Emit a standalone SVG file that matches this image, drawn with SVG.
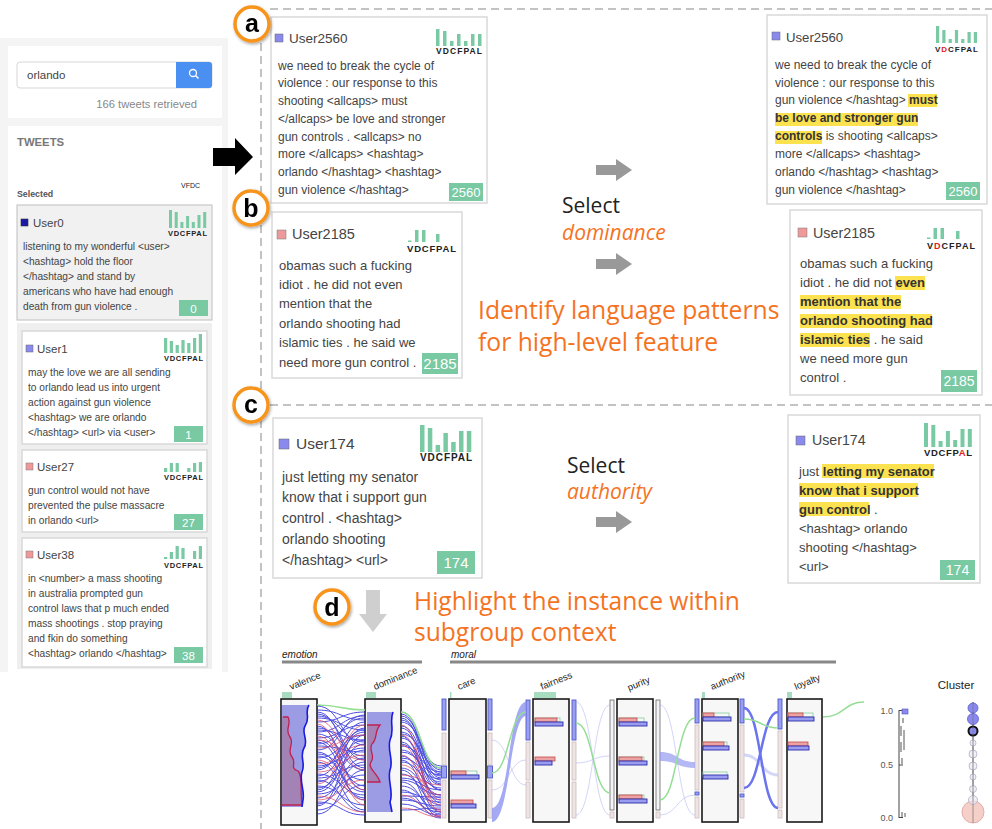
<svg xmlns="http://www.w3.org/2000/svg" width="992" height="829" viewBox="0 0 992 829">
<style>
.sf{font-family:"Liberation Sans",Arial,sans-serif}
.os{font-family:"Open Sans","Liberation Sans",sans-serif}
.card{fill:#fff;stroke:#d9d9d9;stroke-width:1.5}
.tx{font-family:"Liberation Sans",Arial,sans-serif;fill:#444}
.b{font-weight:bold;fill:#333}
.hl{fill:#fde24f}
.g{fill:#79c9a3}
.num{font-family:"Liberation Sans",Arial,sans-serif;fill:#fff;text-anchor:middle}
.lbl{font-family:"Liberation Sans",Arial,sans-serif;font-weight:bold;fill:#222}
.dash{stroke:#b0b0b0;stroke-width:1.5;stroke-dasharray:8 5;fill:none}
.ring{fill:#fff;stroke:#f7941d;stroke-width:3.5}
.letter{font-family:"Liberation Sans",Arial,sans-serif;font-weight:bold;font-size:25px;text-anchor:middle;fill:#000}
.org{fill:#f5731f}
.ax{fill:#f7f7f7;stroke:#1a1a1a;stroke-width:1.6}
.sb{fill:#efe4e4;stroke:#cdbcbc;stroke-width:.8}
.sbb{fill:#9aa0f0;stroke:#5058c8;stroke-width:.9}
.vb{fill:none;stroke:#2424d8;stroke-width:1;opacity:.8}
.vr{fill:none;stroke:#d8405a;stroke-width:1;opacity:.7}
.gr{fill:none;stroke:#94de94;stroke-width:1.5}
.fb{fill:none;stroke:#a8acf0;stroke-width:1;opacity:.5}
.rb{fill:#eba3a3;stroke:#c84848;stroke-width:.8}
.bb{fill:#9a9cf0;stroke:#2a2aa8;stroke-width:.9}
.go{fill:none;stroke:#8fd0a8;stroke-width:.9}
.tab{fill:#a8dcc0}
.ang{font-family:"Liberation Sans",Arial,sans-serif;font-size:9.5px;fill:#222}
</style>
<defs>
<filter id="sh" x="-50%" y="-50%" width="200%" height="200%"><feDropShadow dx="1" dy="1.5" stdDeviation="1.5" flood-opacity=".35"/></filter>
</defs>
<rect width="992" height="829" fill="#fff"/>

<!-- Left panel -->
<g id="left-panel">
<rect x="0" y="38" width="228" height="634" fill="#f4f4f4"/>
<g id="search">
<rect x="8" y="46" width="214" height="72" fill="#fff"/>
<rect x="17" y="62" width="195" height="26" rx="3" fill="#fff" stroke="#d6d6d6"/>
<path d="M176,62 H209 A3,3 0 0 1 212,65 V85 A3,3 0 0 1 209,88 H176 Z" fill="#4a8ff2"/>
<circle cx="193" cy="73" r="3.5" fill="none" stroke="#fff" stroke-width="1.3"/>
<line x1="195.5" y1="75.5" x2="198.5" y2="78.5" stroke="#fff" stroke-width="1.5"/>
<text class="tx" x="27" y="79" font-size="11.5">orlando</text>
<text class="sf" x="197" y="108" font-size="11.2" fill="#888" text-anchor="end">166 tweets retrieved</text>
</g>
<g id="tweets-panel">
<rect x="8" y="126" width="214" height="546" fill="#fff"/>
<text class="sf" x="17" y="146" font-size="11.3" font-weight="bold" fill="#777">TWEETS</text>
<text class="sf" x="181" y="188" font-size="7" fill="#222">VFDC</text>
<text class="sf" x="17" y="197" font-size="8.8" font-weight="bold" fill="#555">Selected</text>
</g>
<g id="card-user0">
<rect x="17" y="205" width="195" height="115" fill="#f1f1f1" stroke="#c9c9c9" stroke-width="1.2"/>
<rect x="21" y="219" width="7" height="7" fill="#1a1aa8" stroke="#333" stroke-width=".6"/>
<text class="tx" x="33" y="226.5" font-size="11.5">User0</text>
<g class="g"><rect x="169" y="210" width="3" height="18"/><rect x="174.7" y="212" width="3" height="16"/><rect x="180.4" y="222" width="3" height="6"/><rect x="186.1" y="216" width="3" height="12"/><rect x="191.8" y="222" width="3" height="6"/><rect x="197.5" y="215" width="3" height="13"/><rect x="203.2" y="212" width="3" height="16"/></g>
<text class="lbl" x="168" y="236" font-size="7.5" textLength="39">VDCFPAL</text>
<g class="tx" font-size="10.2"><text x="23" y="250">listening to my wonderful &lt;user&gt;</text><text x="23" y="265">&lt;hashtag&gt; hold the floor</text><text x="23" y="280">&lt;/hashtag&gt; and stand by</text><text x="23" y="295">americans who have had enough</text><text x="23" y="310">death from gun violence .</text></g>
<rect class="g" x="179" y="300" width="29" height="16"/>
<text class="num" x="193.5" y="312.5" font-size="11.5">0</text>
</g>
<rect x="17" y="323" width="195" height="346" fill="#efefef"/>
<g id="card-user1">
<rect class="card" x="22" y="331" width="185" height="113" stroke-width="1"/>
<rect x="26" y="345" width="7" height="7" fill="#8a8aee" stroke="#666" stroke-width=".5"/>
<text class="tx" x="37" y="353" font-size="11.5">User1</text>
<g class="g"><rect x="164" y="338" width="3.2" height="15"/><rect x="169.8" y="341" width="3.2" height="12"/><rect x="175.6" y="345" width="3.2" height="8"/><rect x="181.4" y="340" width="3.2" height="13"/><rect x="187.2" y="343" width="3.2" height="10"/><rect x="193" y="338" width="3.2" height="15"/><rect x="198.8" y="334" width="3.2" height="19"/></g>
<text class="lbl" x="164" y="361" font-size="7.5" textLength="39">VDCFPAL</text>
<g class="tx" font-size="10.2"><text x="28" y="376">may the love we are all sending</text><text x="28" y="391">to orlando lead us into urgent</text><text x="28" y="406">action against gun violence</text><text x="28" y="421">&lt;hashtag&gt; we are orlando</text><text x="28" y="436">&lt;/hashtag&gt; &lt;url&gt; via &lt;user&gt;</text></g>
<rect class="g" x="174" y="426" width="29" height="16"/>
<text class="num" x="188.5" y="438.5" font-size="11.5">1</text>
</g>
<g id="card-user27">
<rect class="card" x="22" y="450" width="185" height="82" stroke-width="1"/>
<rect x="26" y="463" width="7" height="7" fill="#ee9a9a" stroke="#777" stroke-width=".5"/>
<text class="tx" x="37" y="471" font-size="11.5">User27</text>
<g class="g"><rect x="164" y="468" width="3.2" height="4"/><rect x="169.8" y="463" width="3.2" height="9"/><rect x="175.6" y="463" width="3.2" height="9"/><rect x="187.2" y="468" width="3.2" height="4"/><rect x="193" y="463" width="3.2" height="9"/><rect x="198.8" y="462" width="3.2" height="10"/></g>
<text class="lbl" x="164" y="480" font-size="7.5" textLength="39">VDCFPAL</text>
<g class="tx" font-size="10.2"><text x="28" y="494">gun control would not have</text><text x="28" y="509">prevented the pulse massacre</text><text x="28" y="524">in orlando &lt;url&gt;</text></g>
<rect class="g" x="174" y="514" width="29" height="16"/>
<text class="num" x="188.5" y="526.5" font-size="11.5">27</text>
</g>
<g id="card-user38">
<rect class="card" x="22" y="538" width="185" height="129" stroke-width="1"/>
<rect x="26" y="551" width="7" height="7" fill="#ee9a9a" stroke="#777" stroke-width=".5"/>
<text class="tx" x="37" y="559" font-size="11.5">User38</text>
<g class="g"><rect x="164" y="557" width="3.2" height="2"/><rect x="169.8" y="552" width="3.2" height="7"/><rect x="175.6" y="546" width="3.2" height="13"/><rect x="181.4" y="548" width="3.2" height="11"/><rect x="193" y="551" width="3.2" height="8"/><rect x="198.8" y="546" width="3.2" height="13"/></g>
<text class="lbl" x="164" y="568" font-size="7.5" textLength="39">VDCFPAL</text>
<g class="tx" font-size="10.2"><text x="28" y="582">in &lt;number&gt; a mass shooting</text><text x="28" y="597">in australia prompted gun</text><text x="28" y="612">control laws that p much ended</text><text x="28" y="627">mass shootings . stop praying</text><text x="28" y="642">and fkin do something</text><text x="28" y="657">&lt;hashtag&gt; orlando &lt;/hashtag&gt;</text></g>
<rect class="g" x="174" y="647" width="29" height="16"/>
<text class="num" x="188.5" y="659.5" font-size="11.5">38</text>
</g>
</g>

<!-- dashed separators -->
<g id="separators">
<line class="dash" x1="270" y1="9" x2="992" y2="9"/>
<line class="dash" x1="270" y1="405" x2="992" y2="405"/>
<line class="dash" x1="261" y1="43" x2="261" y2="829"/>
</g>

<!-- Card a left -->
<g id="card-a-left">
<rect class="card" x="271" y="17" width="216" height="186"/>
<rect x="275" y="34" width="8" height="8" fill="#8a8aee" stroke="#666" stroke-width=".5"/>
<text class="tx" x="289" y="42.5" font-size="13.5">User2560</text>
<g class="g"><rect x="436" y="29" width="3.5" height="17"/><rect x="443" y="31" width="3.5" height="15"/><rect x="450" y="41" width="3.5" height="5"/><rect x="457" y="34" width="3.5" height="12"/><rect x="464" y="41" width="3.5" height="5"/><rect x="471" y="34" width="3.5" height="12"/><rect x="478" y="34" width="3.5" height="12"/></g>
<text class="lbl" x="436" y="54" font-size="8.5" textLength="46">VDCFPAL</text>
<g class="tx" font-size="12"><text x="278" y="70">we need to break the cycle of</text><text x="278" y="87">violence : our response to this</text><text x="278" y="105">shooting &lt;allcaps&gt; must</text><text x="278" y="123">&lt;/allcaps&gt; be love and stronger</text><text x="278" y="141">gun controls . &lt;allcaps&gt; no</text><text x="278" y="158">more &lt;/allcaps&gt; &lt;hashtag&gt;</text><text x="278" y="176">orlando &lt;/hashtag&gt; &lt;hashtag&gt;</text><text x="278" y="194">gun violence &lt;/hashtag&gt;</text></g>
<rect class="g" x="449" y="183" width="34" height="18"/>
<text class="num" x="466" y="197" font-size="13">2560</text>
</g>

<!-- Card a right -->
<g id="card-a-right">
<rect class="card" x="767" y="15" width="220" height="189"/>
<rect x="772" y="32" width="8" height="8" fill="#8a8aee" stroke="#666" stroke-width=".5"/>
<text class="tx" x="786" y="42" font-size="13.2">User2560</text>
<g class="g"><rect x="936" y="26" width="3.2" height="17"/><rect x="942.3" y="30" width="3.2" height="13"/><rect x="948.6" y="39" width="3.2" height="4"/><rect x="954.9" y="30" width="3.2" height="13"/><rect x="961.2" y="39" width="3.2" height="4"/><rect x="967.5" y="32" width="3.2" height="11"/><rect x="973.8" y="32" width="3.2" height="11"/></g>
<text class="lbl" x="935" y="52" font-size="8" textLength="43">V<tspan fill="#e0201a">D</tspan>CFPAL</text>
<rect class="hl" x="908" y="94" width="29" height="13"/>
<rect class="hl" x="775" y="113" width="143" height="13"/>
<rect class="hl" x="775" y="131" width="47" height="13"/>
<g class="tx" font-size="12"><text x="775" y="69">we need to break the cycle of</text><text x="775" y="87">violence : our response to this</text><text x="775" y="104">gun violence &lt;/hashtag&gt; <tspan class="b">must</tspan></text><text x="775" y="122" class="b">be love and stronger gun</text><text x="775" y="140"><tspan class="b">controls</tspan> is shooting &lt;allcaps&gt;</text><text x="775" y="158">more &lt;/allcaps&gt; &lt;hashtag&gt;</text><text x="775" y="176">orlando &lt;/hashtag&gt; &lt;hashtag&gt;</text><text x="775" y="194">gun violence &lt;/hashtag&gt;</text></g>
<rect class="g" x="946" y="182" width="34" height="18"/>
<text class="num" x="963" y="196" font-size="13">2560</text>
</g>

<!-- Card b left -->
<g id="card-b-left">
<rect class="card" x="272" y="212" width="190" height="166"/>
<rect x="277" y="230" width="9" height="9" fill="#ee9a9a" stroke="#777" stroke-width=".5"/>
<text class="tx" x="292" y="239" font-size="14.5">User2185</text>
<g class="g"><rect x="408" y="240.5" width="3.5" height="1.5"/><rect x="415" y="230" width="3.5" height="12"/><rect x="422" y="230" width="3.5" height="12"/><rect x="436" y="234" width="3.5" height="8"/></g>
<text class="lbl" x="407" y="252" font-size="9.5" textLength="49">VDCFPAL</text>
<g class="tx" font-size="13"><text x="279" y="270">obamas such a fucking</text><text x="279" y="289">idiot . he did not even</text><text x="279" y="308">mention that the</text><text x="279" y="328">orlando shooting had</text><text x="279" y="347">islamic ties . he said we</text><text x="279" y="367">need more gun control .</text></g>
<rect class="g" x="422" y="353" width="36" height="21"/>
<text class="num" x="440" y="369" font-size="15">2185</text>
</g>

<!-- Card b right -->
<g id="card-b-right">
<rect class="card" x="790" y="210" width="192" height="185"/>
<rect x="798" y="228" width="9" height="9" fill="#ee9a9a" stroke="#777" stroke-width=".5"/>
<text class="tx" x="813" y="238" font-size="14.3">User2185</text>
<g class="g"><rect x="927" y="237.5" width="3.5" height="1.5"/><rect x="933.5" y="228" width="3.5" height="11"/><rect x="940.5" y="228" width="3.5" height="11"/><rect x="956" y="231" width="3.5" height="8"/></g>
<text class="lbl" x="927" y="249" font-size="9" textLength="48">V<tspan fill="#e0201a">D</tspan>CFPAL</text>
<rect class="hl" x="895" y="276" width="30" height="14"/>
<rect class="hl" x="800" y="295" width="101" height="14"/>
<rect class="hl" x="800" y="314" width="132" height="14"/>
<rect class="hl" x="800" y="333" width="70" height="14"/>
<g class="tx" font-size="13"><text x="800" y="268">obamas such a fucking</text><text x="800" y="287">idiot . he did not <tspan class="b">even</tspan></text><text x="800" y="306" class="b">mention that the</text><text x="800" y="325" class="b">orlando shooting had</text><text x="800" y="344"><tspan class="b">islamic ties</tspan> . he said</text><text x="800" y="363">we need more gun</text><text x="800" y="382">control .</text></g>
<rect class="g" x="941" y="370" width="36" height="22"/>
<text class="num" x="959" y="386" font-size="14">2185</text>
</g>

<!-- Card c left -->
<g id="card-c-left">
<rect class="card" x="273" y="418" width="209" height="160"/>
<rect x="279" y="439" width="10" height="10" fill="#8a8aee" stroke="#666" stroke-width=".5"/>
<text class="tx" x="296" y="448.5" font-size="15.5">User174</text>
<g class="g"><rect x="420" y="425" width="4.5" height="27"/><rect x="427.8" y="428" width="4.5" height="24"/><rect x="435.6" y="445" width="4.5" height="7"/><rect x="443.4" y="433" width="4.5" height="19"/><rect x="451.2" y="442" width="4.5" height="10"/><rect x="459" y="431" width="4.5" height="21"/><rect x="466.8" y="431" width="4.5" height="21"/></g>
<text class="lbl" x="420" y="461" font-size="10" textLength="52">VDCFPAL</text>
<g class="tx" font-size="14"><text x="282" y="482">just letting my senator</text><text x="282" y="502">know that i support gun</text><text x="282" y="523">control . &lt;hashtag&gt;</text><text x="282" y="544">orlando shooting</text><text x="282" y="565">&lt;/hashtag&gt; &lt;url&gt;</text></g>
<rect class="g" x="437" y="551" width="38" height="23"/>
<text class="num" x="456" y="568" font-size="15">174</text>
</g>

<!-- Card c right -->
<g id="card-c-right">
<rect class="card" x="788" y="415" width="192" height="168"/>
<rect x="796" y="436" width="9" height="9" fill="#8a8aee" stroke="#666" stroke-width=".5"/>
<text class="tx" x="812" y="445" font-size="14.2">User174</text>
<g class="g"><rect x="924" y="423" width="4" height="24"/><rect x="931.3" y="425" width="4" height="22"/><rect x="938.6" y="441" width="4" height="6"/><rect x="945.9" y="431" width="4" height="16"/><rect x="953.2" y="440" width="4" height="7"/><rect x="960.5" y="429" width="4" height="18"/><rect x="967.8" y="429" width="4" height="18"/></g>
<text class="lbl" x="924" y="456" font-size="9.5" textLength="48">VDCFP<tspan fill="#e0201a">A</tspan>L</text>
<rect class="hl" x="822" y="464" width="112" height="14"/>
<rect class="hl" x="799" y="483" width="119" height="14"/>
<rect class="hl" x="799" y="502" width="70" height="14"/>
<g class="tx" font-size="13"><text x="799" y="476">just <tspan class="b">letting my senator</tspan></text><text x="799" y="495" class="b">know that i support</text><text x="799" y="514"><tspan class="b">gun control</tspan> .</text><text x="799" y="533">&lt;hashtag&gt; orlando</text><text x="799" y="552">shooting &lt;/hashtag&gt;</text><text x="799" y="571">&lt;url&gt;</text></g>
<rect class="g" x="940" y="560" width="35" height="20"/>
<text class="num" x="957.5" y="575" font-size="14">174</text>
</g>

<!-- Connectors / arrows -->
<g id="connectors">
<path d="M213,148 L235,148 L235,138 L253,157 L235,175 L235,166 L213,166 Z" fill="#000"/>
<path d="M596,165 L616,165 L616,159 L632,170 L616,181 L616,175 L596,175 Z" fill="#999"/>
<path d="M596,259 L616,259 L616,253 L632,264 L616,275 L616,269 L596,269 Z" fill="#999"/>
<path d="M596,517 L616,517 L616,511 L632,522 L616,533 L616,527 L596,527 Z" fill="#999"/>
<path d="M366,590 L380,590 L380,614 L387,614 L373,632 L359,614 L366,614 Z" fill="#cfcfcf"/>
</g>

<!-- Annotation texts -->
<g id="annotations">
<text class="os" x="562" y="213" font-size="21" fill="#222">Select</text>
<text class="os org" x="562" y="240" font-size="21" font-style="italic">dominance</text>
<text class="os org" x="478" y="319" font-size="24.7">Identify language patterns</text>
<text class="os org" x="478" y="351" font-size="24.7">for high-level feature</text>
<text class="os" x="567" y="473" font-size="21" fill="#222">Select</text>
<text class="os org" x="567" y="499" font-size="21" font-style="italic">authority</text>
<text class="os org" x="414" y="610" font-size="24.6">Highlight the instance within</text>
<text class="os org" x="414" y="641" font-size="24.6">subgroup context</text>
</g>

<!-- Circle labels -->
<g id="label-a" filter="url(#sh)"><circle class="ring" cx="252" cy="24" r="17"/><text class="letter" x="252" y="32">a</text></g>
<g id="label-b" filter="url(#sh)"><circle class="ring" cx="251" cy="208" r="17"/><text class="letter" x="251" y="217">b</text></g>
<g id="label-c" filter="url(#sh)"><circle class="ring" cx="251" cy="405" r="17"/><text class="letter" x="251" y="413">c</text></g>
<g id="label-d" filter="url(#sh)"><circle class="ring" cx="332" cy="607" r="17"/><text class="letter" x="332" y="616">d</text></g>

<!-- Bottom chart -->
<g id="chart">
<text class="sf" x="282" y="658" font-size="10" font-style="italic" fill="#222">emotion</text>
<rect x="282" y="660.5" width="140" height="3" fill="#888"/>
<text class="sf" x="451" y="658" font-size="10" font-style="italic" fill="#222">moral</text>
<rect x="450" y="660.5" width="386" height="3" fill="#888"/>

<text class="ang" transform="translate(291,690) rotate(-22)">valence</text>
<text class="ang" transform="translate(375,690) rotate(-22)">dominance</text>
<text class="ang" transform="translate(459,690) rotate(-22)">care</text>
<text class="ang" transform="translate(542,690) rotate(-22)">fairness</text>
<text class="ang" transform="translate(629,691) rotate(-22)">purity</text>
<text class="ang" transform="translate(712,690) rotate(-22)">authority</text>
<text class="ang" transform="translate(796,690) rotate(-22)">loyalty</text>

<rect class="tab" x="282" y="692" width="10" height="6"/>
<rect class="tab" x="366" y="692" width="10" height="6"/>
<rect class="tab" x="450" y="692" width="1.5" height="6"/>
<rect class="tab" x="534" y="692" width="22" height="6"/>
<rect class="tab" x="702" y="692" width="3" height="6"/>
<rect class="tab" x="787" y="692" width="5" height="6"/>

<!-- valence -->
<g id="axis-valence">
<rect class="ax" x="281" y="699" width="36" height="126"/>
<path d="M282,705 L309,705 C304,712 311,718 305,726 C301,733 309,740 304,748 C299,756 306,763 302,772 C299,781 305,790 303,800 L302,807 L282,807 Z" fill="#9c9ce4"/>
<path d="M282,717 L288,717 C292,724 284,730 290,737 C295,744 286,750 292,757 C297,763 289,768 298,771 C303,775 300,790 302,805 L282,805 Z" fill="#a382b6"/>
<path d="M283,717 L288,717 C292,724 284,730 290,737 C295,744 286,750 292,757 C297,763 289,768 298,771 C303,775 300,790 302,805 L282,805" fill="none" stroke="#c02050" stroke-width="1.3"/>
<path d="M309,705 C304,712 311,718 305,726 C301,733 309,740 304,748 C299,756 306,763 302,772 C299,781 305,790 303,800 L302,807" fill="none" stroke="#1a1ae0" stroke-width="1.6"/>
</g>
<!-- dominance -->
<g id="axis-dominance">
<rect class="ax" x="365" y="699" width="36" height="123"/>
<path d="M367,712 L393,712 C389,722 395,730 390,740 C387,750 394,760 390,770 C387,780 394,792 390,802 L392,812 L367,812 Z" fill="#9c9ce4"/>
<path d="M367,725 L380,725 C374,732 378,738 372,744 C368,750 376,756 371,762 C367,768 378,774 380,782 L367,782 Z" fill="#a382b6"/>
<path d="M367,725 L380,725 C374,732 378,738 372,744 C368,750 376,756 371,762 C367,768 378,774 380,782 L367,782" fill="none" stroke="#c02050" stroke-width="1.3"/>
<path d="M393,712 C389,722 395,730 390,740 C387,750 394,760 390,770 C387,780 394,792 390,802 L392,812" fill="none" stroke="#1a1ae0" stroke-width="1.6"/>
</g>

<!-- valence -> dominance lines -->
<g id="links-vd">
<path class="gr" d="M317,705C341,705 341,710 365,710"/>
<g class="vb">
<path d="M317,706C341,706 341,745 365,745"/><path d="M317,710C341,710 341,720 365,720"/><path d="M317,714C341,714 341,760 365,760"/><path d="M317,718C341,718 341,730 365,730"/><path d="M317,722C341,722 341,712 365,712"/><path d="M317,726C341,726 341,790 365,790"/><path d="M317,730C341,730 341,740 365,740"/><path d="M317,734C341,734 341,770 365,770"/><path d="M317,738C341,738 341,725 365,725"/><path d="M317,742C341,742 341,800 365,800"/><path d="M317,746C341,746 341,752 365,752"/><path d="M317,750C341,750 341,715 365,715"/><path d="M317,754C341,754 341,780 365,780"/><path d="M317,758C341,758 341,735 365,735"/><path d="M317,762C341,762 341,810 365,810"/><path d="M317,766C341,766 341,748 365,748"/><path d="M317,770C341,770 341,722 365,722"/><path d="M317,774C341,774 341,795 365,795"/><path d="M317,778C341,778 341,765 365,765"/><path d="M317,782C341,782 341,740 365,740"/><path d="M317,786C341,786 341,805 365,805"/><path d="M317,790C341,790 341,728 365,728"/><path d="M317,794C341,794 341,775 365,775"/><path d="M317,798C341,798 341,758 365,758"/><path d="M317,802C341,802 341,815 365,815"/><path d="M317,806C341,806 341,735 365,735"/><path d="M317,810C341,810 341,785 365,785"/><path d="M317,814C341,814 341,770 365,770"/><path d="M317,716C341,716 341,742 365,742"/><path d="M317,728C341,728 341,756 365,756"/><path d="M317,744C341,744 341,718 365,718"/><path d="M317,756C341,756 341,792 365,792"/><path d="M317,768C341,768 341,730 365,730"/><path d="M317,780C341,780 341,812 365,812"/><path d="M317,792C341,792 341,744 365,744"/><path d="M317,804C341,804 341,762 365,762"/><path d="M317,740C341,740 341,786 365,786"/><path d="M317,712C341,712 341,768 365,768"/><path d="M317,732C341,732 341,716 365,716"/><path d="M317,752C341,752 341,798 365,798"/><path d="M317,776C341,776 341,732 365,732"/><path d="M317,788C341,788 341,750 365,750"/>
</g>
<g class="vr">
<path d="M317,720C341,720 341,770 365,770"/><path d="M317,736C341,736 341,790 365,790"/><path d="M317,748C341,748 341,735 365,735"/><path d="M317,760C341,760 341,800 365,800"/><path d="M317,772C341,772 341,755 365,755"/><path d="M317,784C341,784 341,725 365,725"/><path d="M317,796C341,796 341,812 365,812"/><path d="M317,740C341,740 341,760 365,760"/><path d="M317,764C341,764 341,745 365,745"/><path d="M317,800C341,800 341,780 365,780"/><path d="M317,724C341,724 341,805 365,805"/>
</g>
</g>

<!-- dominance -> care lines -->
<g id="links-dc">
<g class="vb">
<path d="M401,712C421,712 421,770 441,770"/><path d="M401,716C421,716 421,774 441,774"/><path d="M401,720C421,720 421,772 441,772"/><path d="M401,726C421,726 421,780 441,780"/><path d="M401,732C421,732 421,776 441,776"/><path d="M401,738C421,738 421,785 441,785"/><path d="M401,744C421,744 421,790 441,790"/><path d="M401,750C421,750 421,782 441,782"/><path d="M401,756C421,756 421,795 441,795"/><path d="M401,762C421,762 421,788 441,788"/><path d="M401,768C421,768 421,800 441,800"/><path d="M401,774C421,774 421,805 441,805"/><path d="M401,780C421,780 421,795 441,795"/><path d="M401,786C421,786 421,810 441,810"/><path d="M401,792C421,792 421,802 441,802"/><path d="M401,798C421,798 421,812 441,812"/><path d="M401,804C421,804 421,815 441,815"/><path d="M401,810C421,810 421,808 441,808"/><path d="M401,714C421,714 421,778 441,778"/><path d="M401,728C421,728 421,790 441,790"/><path d="M401,734C421,734 421,768 441,768"/><path d="M401,742C421,742 421,798 441,798"/><path d="M401,752C421,752 421,775 441,775"/><path d="M401,760C421,760 421,812 441,812"/><path d="M401,770C421,770 421,817 441,817"/><path d="M401,778C421,778 421,790 441,790"/><path d="M401,790C421,790 421,818 441,818"/><path d="M401,800C421,800 421,806 441,806"/><path d="M401,722C421,722 421,766 441,766"/><path d="M401,746C421,746 421,772 441,772"/><path d="M401,718C421,718 421,784 441,784"/><path d="M401,736C421,736 421,803 441,803"/><path d="M401,758C421,758 421,779 441,779"/><path d="M401,782C421,782 421,814 441,814"/><path d="M401,796C421,796 421,797 441,797"/>
</g>
<g class="vr">
<path d="M401,735C421,735 421,800 441,800"/><path d="M401,755C421,755 421,810 441,810"/><path d="M401,775C421,775 421,785 441,785"/><path d="M401,795C421,795 421,816 441,816"/><path d="M401,745C421,745 421,805 441,805"/><path d="M401,765C421,765 421,795 441,795"/><path d="M401,808C421,808 421,817 441,817"/><path d="M401,725C421,725 421,812 441,812"/>
</g>
<path class="gr" d="M401,712C421,712 421,768 441,768"/>
</g>

<!-- moral axes side bars -->
<g id="sidebars">
<rect class="sbb" x="442" y="699" width="4" height="31"/><rect class="sb" x="442" y="733" width="4" height="32"/><rect class="sbb" x="441.5" y="766" width="5" height="12" stroke="#222"/><rect class="sb" x="442" y="780" width="4" height="38"/>
<rect class="sbb" x="488" y="699" width="4" height="31"/><rect class="sb" x="488" y="733" width="4" height="32"/><rect class="sbb" x="487.5" y="766" width="5" height="12" stroke="#222"/><rect class="sb" x="488" y="780" width="4" height="38"/>
<rect class="sbb" x="526" y="700" width="4" height="40"/><rect class="sb" x="526" y="742" width="4" height="38"/><rect class="sb" x="526" y="782" width="4" height="36"/>
<rect class="sbb" x="572" y="700" width="4" height="40"/><rect class="sb" x="572" y="742" width="4" height="38"/><rect class="sb" x="572" y="782" width="4" height="36"/>
<rect x="610" y="700" width="4" height="110" fill="#f4f4f8" stroke="#666" stroke-width=".8"/><rect class="sb" x="610" y="812" width="4" height="6"/>
<rect x="656" y="700" width="4" height="110" fill="#f4f4f8" stroke="#666" stroke-width=".8"/><rect class="sb" x="656" y="812" width="4" height="6"/>
<rect class="sbb" x="695" y="699" width="4" height="24"/><rect class="sb" x="695" y="725" width="4" height="65"/><rect class="sbb" x="695" y="792" width="4" height="3"/><rect class="sb" x="695" y="797" width="4" height="21"/>
<rect class="sbb" x="740" y="699" width="4" height="24"/><rect class="sb" x="740" y="725" width="4" height="67"/><rect class="sbb" x="740" y="794" width="4" height="3"/><rect class="sb" x="740" y="799" width="4" height="19"/>
<rect class="sbb" x="778" y="699" width="4" height="30"/><rect class="sb" x="778" y="731" width="4" height="77"/><rect class="sb" x="778" y="810" width="4" height="8"/>
</g>

<!-- links between moral axes -->
<g id="links-moral">
<path d="M492,808 C510,808 508,702 526,702 L526,716 C510,716 510,822 492,822 Z" fill="#8c93ef" opacity=".8"/>
<path class="fb" d="M492,790C509,790 509,760 526,760"/><path class="fb" d="M492,740C509,740 509,785 526,785"/>
<path class="gr" d="M492,773C509,773 509,712 526,712"/>
<path class="fb" d="M576,702C593,702 593,815 610,815"/><path class="fb" d="M576,763C593,763 593,756 610,756"/><path class="fb" d="M576,815C593,815 593,705 610,705"/>
<path class="gr" d="M576,723C593,723 593,793 610,793"/>
<path d="M660,752 C678,752 677,762 695,762 L695,768 C677,768 678,761 660,761 Z" fill="#8c93ef" opacity=".65"/>
<path class="fb" d="M660,705C677,705 677,815 695,815"/><path class="fb" d="M660,815C677,815 677,795 695,795"/>
<path class="gr" d="M660,800C677,800 677,718 695,718"/>
<path d="M744,755C761,755 761,775 778,775" fill="none" stroke="#b8bcf2" stroke-width="3" opacity=".6"/>
<path d="M744,708C761,708 761,808 778,808" fill="none" stroke="#6a74ee" stroke-width="2.5"/>
<path d="M744,788C761,788 761,712 778,712" fill="none" stroke="#6a74ee" stroke-width="2.5"/>
<path class="gr" d="M744,719C761,719 761,728 778,728"/>
<path class="gr" d="M823,717C844,717 844,702 864,702"/>
</g>

<!-- moral axes -->
<g id="axis-care"><rect class="ax" x="449" y="699" width="37" height="123"/>
<rect class="go" x="451" y="771" width="26" height="4"/><rect class="rb" x="451" y="771" width="15" height="4"/><rect class="bb" x="451" y="775" width="28" height="4"/>
<rect class="rb" x="451" y="800" width="22" height="4"/><rect class="bb" x="451" y="804" width="25" height="4"/></g>
<g id="axis-fairness"><rect class="ax" x="533" y="699" width="36" height="123"/>
<rect class="go" x="535" y="718" width="25" height="4"/><rect class="rb" x="535" y="718" width="22" height="4"/><rect class="bb" x="535" y="722" width="28" height="4"/>
<rect class="rb" x="535" y="757" width="20" height="4"/><rect class="bb" x="535" y="761" width="17" height="4"/></g>
<g id="axis-purity"><rect class="ax" x="617" y="699" width="36" height="123"/>
<rect class="go" x="619" y="718" width="25" height="4"/><rect class="rb" x="619" y="718" width="18" height="4"/><rect class="bb" x="619" y="722" width="28" height="4"/>
<rect class="go" x="619" y="757" width="25" height="4"/><rect class="rb" x="619" y="757" width="23" height="4"/><rect class="bb" x="619" y="761" width="28" height="4"/>
<rect class="go" x="619" y="795" width="25" height="4"/><rect class="rb" x="619" y="795" width="23" height="4"/><rect class="bb" x="619" y="799" width="28" height="4"/></g>
<g id="axis-authority"><rect class="ax" x="702" y="699" width="36" height="123"/>
<rect class="go" x="703" y="713" width="26" height="4"/><rect class="rb" x="703" y="713" width="11" height="4"/><rect class="bb" x="703" y="717" width="28" height="4"/>
<rect class="go" x="703" y="742" width="24" height="4"/><rect class="rb" x="703" y="742" width="21" height="4"/><rect class="bb" x="703" y="746" width="26" height="4"/>
<rect class="go" x="703" y="772" width="24" height="4"/><rect class="bb" x="703" y="775" width="25" height="4"/></g>
<g id="axis-loyalty"><rect class="ax" x="787" y="699" width="35" height="123"/>
<rect class="go" x="788" y="713" width="25" height="4"/><rect class="rb" x="788" y="713" width="15" height="4"/><rect class="bb" x="788" y="717" width="26" height="4"/>
<rect class="rb" x="788" y="742" width="20" height="4"/><rect class="bb" x="788" y="746" width="21" height="4"/></g>

<!-- scale -->
<g id="scale">
<text class="sf" x="893" y="714" font-size="9" fill="#555" text-anchor="end">1.0</text>
<text class="sf" x="893" y="768" font-size="9" fill="#555" text-anchor="end">0.5</text>
<text class="sf" x="893" y="821" font-size="9" fill="#555" text-anchor="end">0.0</text>
<line x1="899" y1="710" x2="899" y2="818" stroke="#444" stroke-width="1"/>
<line x1="899" y1="710.5" x2="903" y2="710.5" stroke="#444"/><line x1="899" y1="765" x2="903" y2="765" stroke="#444"/><line x1="899" y1="817.5" x2="903" y2="817.5" stroke="#444"/>
<rect x="902" y="709" width="6" height="5" fill="#8a8aee" stroke="#5050c0" stroke-width=".6"/>
<g stroke="#555" stroke-width="1"><line x1="903" y1="718" x2="903" y2="723"/><line x1="901" y1="726" x2="901" y2="736"/><line x1="904" y1="730" x2="904" y2="750"/><line x1="901" y1="742" x2="901" y2="752"/><line x1="902" y1="758" x2="902" y2="764"/><line x1="902" y1="812" x2="902" y2="817"/><line x1="905" y1="813" x2="905" y2="817"/></g>
</g>

<!-- cluster -->
<g id="cluster">
<text class="sf" x="956" y="689" font-size="11.5" fill="#222" text-anchor="middle">Cluster</text>
<line x1="973" y1="702" x2="973" y2="823" stroke="#666" stroke-width="1"/>
<circle cx="973" cy="812" r="11" fill="#f2c8c0" stroke="#d8a0a0" stroke-width=".8" fill-opacity=".85"/>
<circle cx="973" cy="800" r="4.5" fill="#eceaf4" stroke="#b0b0c8" stroke-width=".8" fill-opacity=".7"/>
<circle cx="973" cy="789" r="3.5" fill="#eceaf4" stroke="#b0b0c8" stroke-width=".8" fill-opacity=".7"/>
<circle cx="973" cy="777" r="3" fill="#eceaf4" stroke="#b0b0c8" stroke-width=".8" fill-opacity=".7"/>
<circle cx="973" cy="766" r="4" fill="#eceaf4" stroke="#b0b0c8" stroke-width=".8" fill-opacity=".7"/>
<circle cx="973" cy="754" r="4" fill="#eceaf4" stroke="#b0b0c8" stroke-width=".8" fill-opacity=".7"/>
<circle cx="973" cy="743" r="3" fill="#eceaf4" stroke="#b0b0c8" stroke-width=".8" fill-opacity=".7"/>
<circle cx="973" cy="731" r="4.5" fill="#8a8aee" stroke="#111" stroke-width="2"/>
<circle cx="973" cy="719" r="5.5" fill="#8a8aee" stroke="#5a5ad0" stroke-width=".8"/>
<circle cx="973" cy="708" r="5" fill="#8a8aee" stroke="#5a5ad0" stroke-width=".8"/>
<line x1="973" y1="702" x2="973" y2="823" stroke="#666" stroke-width=".8" opacity=".6"/>
</g>
</g>
</svg>
